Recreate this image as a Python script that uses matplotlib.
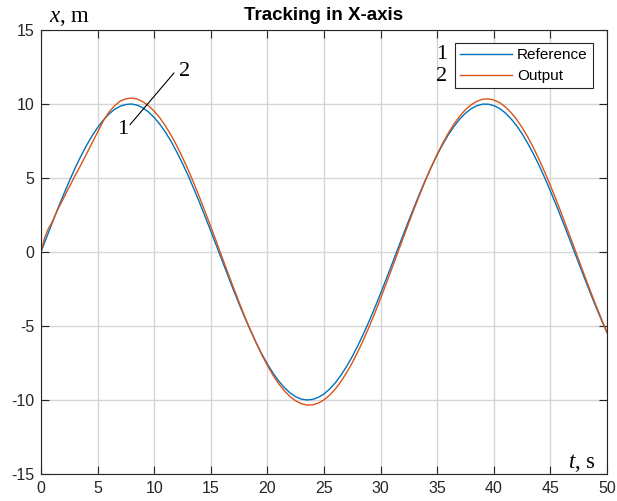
import matplotlib
matplotlib.use("Agg")
import matplotlib.pyplot as plt

# time, s (0.5 s samples)
t = [0, 0.5, 1, 1.5, 2, 2.5, 3, 3.5, 4, 4.5, 5, 5.5, 6, 6.5, 7, 7.5, 8, 8.5, 9, 9.5,
     10, 10.5, 11, 11.5, 12, 12.5, 13, 13.5, 14, 14.5, 15, 15.5, 16, 16.5, 17, 17.5, 18, 18.5, 19, 19.5,
     20, 20.5, 21, 21.5, 22, 22.5, 23, 23.5, 24, 24.5, 25, 25.5, 26, 26.5, 27, 27.5, 28, 28.5, 29, 29.5,
     30, 30.5, 31, 31.5, 32, 32.5, 33, 33.5, 34, 34.5, 35, 35.5, 36, 36.5, 37, 37.5, 38, 38.5, 39, 39.5,
     40, 40.5, 41, 41.5, 42, 42.5, 43, 43.5, 44, 44.5, 45, 45.5, 46, 46.5, 47, 47.5, 48, 48.5, 49, 49.5, 50]
# reference trajectory x, m
x_ref = [0.00, 1.00, 1.99, 2.96, 3.89, 4.79, 5.65, 6.44, 7.17, 7.83, 8.41, 8.91, 9.32, 9.64, 9.85, 9.97,
         10.00, 9.92, 9.74, 9.46,
         9.09, 8.63, 8.09, 7.46, 6.75, 5.98, 5.16, 4.27, 3.35, 2.39, 1.41, 0.42, -0.58, -1.58, -2.56, -3.51,
         -4.43, -5.30, -6.12, -6.88,
         -7.57, -8.18, -8.72, -9.16, -9.52, -9.78, -9.94, -10.00, -9.96, -9.82, -9.59, -9.26, -8.84, -8.32,
         -7.73, -7.06, -6.31, -5.51, -4.65, -3.74,
         -2.79, -1.82, -0.83, 0.17, 1.17, 2.15, 3.11, 4.05, 4.94, 5.78, 6.57, 7.29, 7.94, 8.50, 8.99, 9.38,
         9.68, 9.88, 9.99, 9.99,
         9.89, 9.70, 9.41, 9.02, 8.55, 7.99, 7.34, 6.63, 5.85, 5.01, 4.12, 3.19, 2.23, 1.25, 0.25, -0.75,
         -1.74, -2.72, -3.67, -4.58, -5.44]

# output has a couple of extra samples during the start-up transient
t_out = [0, 0.3, 0.6] + t[2:]
x_out = [0.00, 0.90, 1.50, 2.05, 2.90, 3.65, 4.40, 5.15, 5.85, 6.60, 7.35, 8.10, 8.85, 9.45, 9.88, 10.20,
         10.35, 10.40, 10.34, 10.15, 9.88,
         9.51, 9.06, 8.51, 7.88, 7.17, 6.39, 5.55, 4.65, 3.70, 2.72, 1.71, 0.68, -0.36, -1.39, -2.40, -3.40,
         -4.36, -5.27, -6.13, -6.94,
         -7.67, -8.33, -8.90, -9.38, -9.77, -10.06, -10.25, -10.34, -10.33, -10.21, -9.99, -9.67, -9.26, -8.75,
         -8.15, -7.48, -6.72, -5.91, -5.03, -4.10,
         -3.13, -2.13, -1.11, -0.07, 0.96, 1.98, 2.99, 3.96, 4.90, 5.78, 6.61, 7.37, 8.06, 8.67, 9.19, 9.62,
         9.95, 10.18, 10.32, 10.35,
         10.27, 10.10, 9.82, 9.44, 8.98, 8.41, 7.77, 7.05, 6.25, 5.40, 4.49, 3.54, 2.55, 1.53, 0.51, -0.53,
         -1.56, -2.57, -3.56, -4.51, -5.44]

x_ticks = [0, 5, 10, 15, 20, 25, 30, 35, 40, 45, 50]
y_ticks = [-15, -10, -5, 0, 5, 10, 15]

plt.rcParams['font.family'] = ['Liberation Sans', 'DejaVu Sans']
plt.rcParams['axes.unicode_minus'] = False
plt.rcParams['mathtext.fontset'] = 'custom'
plt.rcParams['mathtext.rm'] = 'Liberation Serif'
plt.rcParams['mathtext.it'] = 'Liberation Serif:italic'

dark = '#262626'
serif = 'Liberation Serif'

fig = plt.figure(figsize=(6.17, 5.01), dpi=100)
ax = fig.add_axes([41 / 617, 1 - 474 / 501, 566 / 617, 444 / 501])

ax.plot(t, x_ref, color='#0072BD', lw=1.0, label='Reference')
ax.plot(t_out, x_out, color='#D95319', lw=1.0, label='Output')

ax.set_xlim(0, 50)
ax.set_ylim(-15, 15)
ax.set_xticks(x_ticks)
ax.set_yticks(y_ticks)
ax.grid(True, color='#d6d6d6', lw=1.0)
ax.set_axisbelow(True)
ax.tick_params(direction='in', length=5.5, width=0.8, colors=dark, labelsize=11.5,
               top=True, right=True, pad=5)
for sp in ax.spines.values():
    sp.set_color(dark)
    sp.set_linewidth(0.8)

ax.set_title('Tracking in X-axis', fontsize=13.5, fontweight='bold', pad=7)

# axis labels drawn inside the frame corners
ax.text(0.014, 1.019, r'$x$, m', transform=ax.transAxes, fontsize=16.5,
        family=serif, ha='left', va='baseline')
ax.text(0.981, 0.014, r'$t$, s', transform=ax.transAxes, fontsize=16.5,
        family=serif, ha='right', va='baseline')

# curve markers 1 and 2
ax.annotate('', xy=(11.75, 12.1), xytext=(7.86, 8.6),
            arrowprops=dict(arrowstyle='-', color='black', lw=0.8, shrinkA=0, shrinkB=0))
ax.text(7.75, 8.3, '1', fontsize=16, family=serif, ha='right', va='center')
ax.text(12.2, 12.2, '2', fontsize=16, family=serif, ha='left', va='center')

leg = ax.legend(loc='upper right', bbox_to_anchor=(0.975, 0.971), borderaxespad=0,
                fontsize=11, fancybox=False, edgecolor=dark, framealpha=1,
                handlelength=3.4, handletextpad=0.3, labelspacing=0.45, borderpad=0.35)
leg.get_frame().set_linewidth(0.8)
ax.text(0.7173, 0.9437, '1', transform=ax.transAxes, fontsize=16, family=serif,
        ha='right', va='center')
ax.text(0.7173, 0.8953, '2', transform=ax.transAxes, fontsize=16, family=serif,
        ha='right', va='center')

fig.savefig('out.png', dpi=100)
